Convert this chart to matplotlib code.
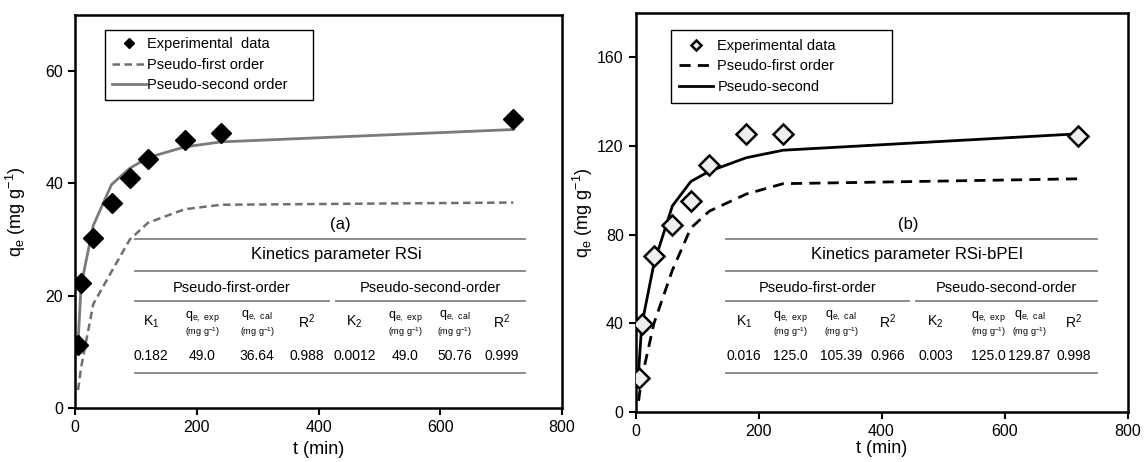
import matplotlib
matplotlib.use("Agg")
import matplotlib.pyplot as plt
from matplotlib.lines import Line2D

plt.rcParams['font.family'] = ['Liberation Sans', 'DejaVu Sans']
plt.rcParams['mathtext.default'] = 'regular'

# contact time (min)
t_min = [5, 10, 30, 60, 90, 120, 180, 240, 720]

# RSi: experimental uptake and the two model curves (mg/g)
rsi_exp = [11.2, 22.2, 30.3, 36.6, 40.9, 44.3, 47.8, 49.0, 51.5]
rsi_pfo = [3.2, 7.2, 18.5, 24.3, 30.0, 33.0, 35.4, 36.2, 36.6]
rsi_pso = [11.5, 21.8, 32.5, 39.8, 42.7, 44.6, 46.5, 47.4, 49.6]

# RSi-bPEI
bpei_exp = [15.2, 39.5, 70.5, 84.5, 95.4, 111.6, 125.2, 125.2, 124.4]
bpei_pfo = [5.0, 15.0, 40.0, 64.0, 83.0, 90.6, 98.3, 103.0, 105.2]
bpei_pso = [18.0, 39.0, 67.0, 93.0, 104.0, 108.6, 114.7, 118.1, 125.5]

# kinetics parameter tables
col_heads = ["K$_1$", "q$_{e,\\ exp}$", "q$_{e,\\ cal}$", "R$^2$",
             "K$_2$", "q$_{e,\\ exp}$", "q$_{e,\\ cal}$", "R$^2$"]
unit_cols = [1, 2, 5, 6]
rsi_params = ["0.182", "49.0", "36.64", "0.988", "0.0012", "49.0", "50.76", "0.999"]
bpei_params = ["0.016", "125.0", "105.39", "0.966", "0.003", "125.0", "129.87", "0.998"]

W, H = 1145, 462
fig = plt.figure(figsize=(W / 100, H / 100), dpi=100)


def px_axes(x0, y0, x1, y1):
    return fig.add_axes([x0 / W, 1 - y1 / H, (x1 - x0) / W, (y1 - y0) / H])


def ftext(x, y, s, size, **kw):
    fig.text(x / W, 1 - y / H, s, ha='center', va='center', fontsize=size, **kw)


def hline(x0, x1, y):
    fig.add_artist(Line2D([x0 / W, x1 / W], [1 - y / H, 1 - y / H],
                          transform=fig.transFigure, color='#8c8c8c', lw=1.4))


def style_axes(ax, ymax, ystep):
    ax.set_xlim(0, 800)
    ax.set_ylim(0, ymax)
    ax.set_xticks(range(0, 801, 200))
    ax.set_yticks(range(0, ymax, ystep))
    for s in ax.spines.values():
        s.set_linewidth(1.8)
    ax.tick_params(direction='out', length=5, width=1.5, labelsize=11.5,
                   top=False, right=False)
    ax.set_xlabel("t (min)", fontsize=13)
    ax.set_ylabel("q$_e$ (mg g$^{-1}$)", fontsize=13)


def add_legend(ax, anchor, textpad, pad):
    h, l = ax.get_legend_handles_labels()
    leg = ax.legend([h[2], h[0], h[1]], [l[2], l[0], l[1]], loc='upper left',
                    bbox_to_anchor=anchor, mode='expand', borderaxespad=0,
                    fontsize=10.5, handlelength=2.3, handletextpad=textpad,
                    markerscale=0.55, fancybox=False, edgecolor='black',
                    framealpha=1, labelspacing=0.45, borderpad=pad)
    leg.get_frame().set_linewidth(1.0)


def draw_table(cols, title, params, letter_xy, x0, x1, split):
    # cols: x centres of the eight columns (pixels)
    ftext(letter_xy[0], letter_xy[1], letter_xy[2], 12)
    hline(x0, x1, 239)
    ftext((x0 + x1) / 2 + 6, 255, title, 12)
    hline(x0, x1, 271)
    ftext((x0 + split[0]) / 2, 288, "Pseudo-first-order", 10.5)
    ftext((split[1] + x1) / 2, 288, "Pseudo-second-order", 10.5)
    hline(x0, split[0], 301)
    hline(split[1], x1, 301)
    for i, (cx, head) in enumerate(zip(cols, col_heads)):
        if i in unit_cols:
            ftext(cx, 316, head, 9)
            ftext(cx, 332, "(mg g$^{-1}$)", 6.5)
        else:
            ftext(cx, 322, head, 10)
        ftext(cx, 356, params[i], 10)
    hline(x0, x1, 373)


# (a) RSi
ax1 = px_axes(75, 15, 562, 408)
ax1.plot(t_min, rsi_pfo, color='#6e6e6e', lw=1.8, ls=(0, (3, 1.8)),
         label="Pseudo-first order")
ax1.plot(t_min, rsi_pso, color='#7a7a7a', lw=2.0, label="Pseudo-second order")
ax1.plot(t_min, rsi_exp, ls='none', marker='D', ms=10, color='black',
         label="Experimental  data", zorder=5)
style_axes(ax1, 70, 20)
ax1.yaxis.set_label_coords(-0.097, 0.5)
ax1.xaxis.set_label_coords(0.5, -0.085)
add_legend(ax1, (0.061, 0.7, 0.427, 0.262), 0.1, 0.5)

draw_table([151, 202, 257, 307, 354.5, 405.5, 454.5, 502], "Kinetics parameter RSi",
           rsi_params, (340, 225, "(a)"), 135, 525, (329, 336))

# (b) RSi-bPEI
ax2 = px_axes(635.5, 13, 1127.5, 412)
ax2.plot(t_min, bpei_pfo, color='black', lw=2.0, ls=(0, (4, 2.6)),
         label="Pseudo-first order")
ax2.plot(t_min, bpei_pso, color='black', lw=2.0, label="Pseudo-second")
ax2.plot(t_min, bpei_exp, ls='none', marker='D', ms=10, mfc='#eeeeee',
         mec='black', mew=1.8, label="Experimental data", zorder=5)
style_axes(ax2, 180, 40)
ax2.yaxis.set_label_coords(-0.082, 0.5)
ax2.xaxis.set_label_coords(0.5, -0.07)
add_legend(ax2, (0.0715, 0.7, 0.449, 0.257), 0.3, 0.6)

draw_table([744, 790, 841, 888, 935.5, 988, 1029.5, 1073.5], "Kinetics parameter RSi-bPEI",
           bpei_params, (908, 225, "(b)"), 725.5, 1096.5, (909, 916))

fig.savefig("out.png", dpi=100)
